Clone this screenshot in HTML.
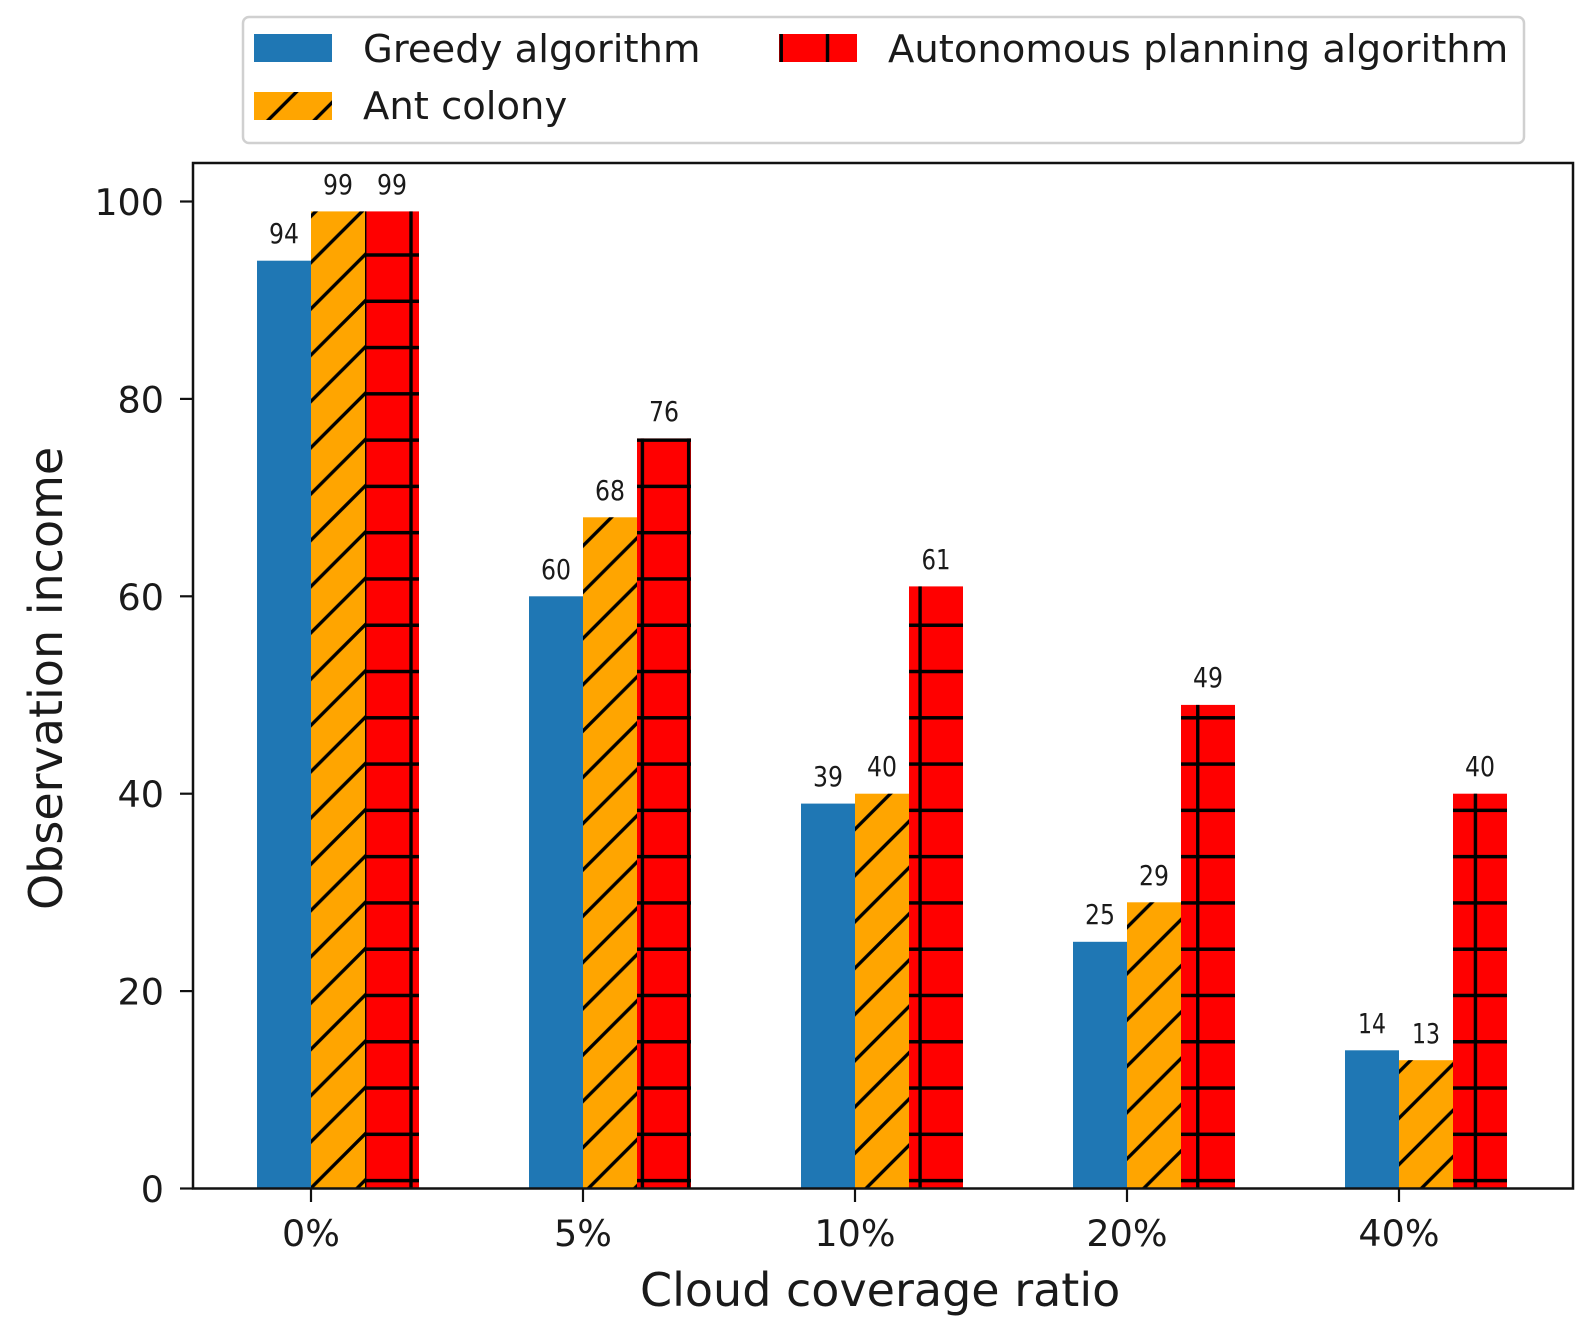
<!DOCTYPE html>
<html><head><meta charset="utf-8"><style>
html,body{margin:0;padding:0;background:#fff;}
svg{display:block;}
text{font-family:"DejaVu Sans","Liberation Sans",sans-serif;fill:#1a1a1a;}
</style></head><body>
<svg width="1593" height="1337" viewBox="0 0 1593 1337" xmlns="http://www.w3.org/2000/svg">
<defs>
<pattern id="diag" patternUnits="userSpaceOnUse" x="387.86" y="231.86" width="46.28" height="46.28">
<path d="M-4,50.28 L50.28,-4 M-4,4 L4,-4 M42.28,50.28 L50.28,42.28" stroke="#000" stroke-width="3.4" fill="none"/>
</pattern>
<pattern id="plus" patternUnits="userSpaceOnUse" x="387.86" y="231.86" width="46.28" height="46.28">
<path d="M23.14,-1 V47.28 M-1,23.14 H47.28" stroke="#000" stroke-width="3.4" fill="none"/>
</pattern>
</defs>
<rect width="1593" height="1337" fill="#fff"/>

<!-- Legend -->
<rect x="243" y="17" width="1281" height="126" rx="6" ry="6" fill="#fff" stroke="#d0d0d0" stroke-width="2.5"/>
<rect x="254" y="34" width="78" height="28" fill="#1f77b4"/>
<rect x="254" y="92" width="78" height="28" fill="#ffa500"/>
<rect x="254" y="92" width="78" height="28" fill="url(#diag)"/>
<rect x="779" y="34" width="78" height="28" fill="#ff0000"/>
<rect x="779" y="34" width="78" height="28" fill="url(#plus)"/>
<text x="363" y="62" font-size="38.5">Greedy algorithm</text>
<text x="363" y="119" font-size="38.5">Ant colony</text>
<text x="888" y="62" font-size="38.5">Autonomous planning algorithm</text>

<!-- Bars: y(v)=1188.5-9.87v -->
<rect x="257" y="260.7" width="54" height="927.8" fill="#1f77b4"/>
<rect x="311" y="211.4" width="54" height="977.1" fill="#ffa500"/>
<rect x="311" y="211.4" width="54" height="977.1" fill="url(#diag)"/>
<rect x="365" y="211.4" width="54" height="977.1" fill="#ff0000"/>
<rect x="365" y="211.4" width="54" height="977.1" fill="url(#plus)"/>

<rect x="529" y="596.3" width="54" height="592.2" fill="#1f77b4"/>
<rect x="583" y="517.3" width="54" height="671.2" fill="#ffa500"/>
<rect x="583" y="517.3" width="54" height="671.2" fill="url(#diag)"/>
<rect x="637" y="438.4" width="54" height="750.1" fill="#ff0000"/>
<rect x="637" y="438.4" width="54" height="750.1" fill="url(#plus)"/>

<rect x="801" y="803.6" width="54" height="384.9" fill="#1f77b4"/>
<rect x="855" y="793.7" width="54" height="394.8" fill="#ffa500"/>
<rect x="855" y="793.7" width="54" height="394.8" fill="url(#diag)"/>
<rect x="909" y="586.4" width="54" height="602.1" fill="#ff0000"/>
<rect x="909" y="586.4" width="54" height="602.1" fill="url(#plus)"/>

<rect x="1073" y="941.8" width="54" height="246.7" fill="#1f77b4"/>
<rect x="1127" y="902.3" width="54" height="286.2" fill="#ffa500"/>
<rect x="1127" y="902.3" width="54" height="286.2" fill="url(#diag)"/>
<rect x="1181" y="704.9" width="54" height="483.6" fill="#ff0000"/>
<rect x="1181" y="704.9" width="54" height="483.6" fill="url(#plus)"/>

<rect x="1345" y="1050.3" width="54" height="138.2" fill="#1f77b4"/>
<rect x="1399" y="1060.2" width="54" height="128.3" fill="#ffa500"/>
<rect x="1399" y="1060.2" width="54" height="128.3" fill="url(#diag)"/>
<rect x="1453" y="793.7" width="54" height="394.8" fill="#ff0000"/>
<rect x="1453" y="793.7" width="54" height="394.8" fill="url(#plus)"/>

<!-- value labels -->
<g font-size="28" text-anchor="middle">
<text x="284" y="243" textLength="30" lengthAdjust="spacingAndGlyphs">94</text>
<text x="338" y="194" textLength="30" lengthAdjust="spacingAndGlyphs">99</text>
<text x="392" y="194" textLength="30" lengthAdjust="spacingAndGlyphs">99</text>
<text x="556" y="579" textLength="30" lengthAdjust="spacingAndGlyphs">60</text>
<text x="610" y="500" textLength="30" lengthAdjust="spacingAndGlyphs">68</text>
<text x="664" y="421" textLength="30" lengthAdjust="spacingAndGlyphs">76</text>
<text x="828" y="786" textLength="30" lengthAdjust="spacingAndGlyphs">39</text>
<text x="882" y="776" textLength="30" lengthAdjust="spacingAndGlyphs">40</text>
<text x="936" y="569" textLength="29" lengthAdjust="spacingAndGlyphs">61</text>
<text x="1100" y="924" textLength="30" lengthAdjust="spacingAndGlyphs">25</text>
<text x="1154" y="885" textLength="30" lengthAdjust="spacingAndGlyphs">29</text>
<text x="1208" y="687" textLength="30" lengthAdjust="spacingAndGlyphs">49</text>
<text x="1372" y="1033" textLength="28" lengthAdjust="spacingAndGlyphs">14</text>
<text x="1426" y="1043" textLength="28" lengthAdjust="spacingAndGlyphs">13</text>
<text x="1480" y="776" textLength="30" lengthAdjust="spacingAndGlyphs">40</text>
</g>

<!-- axes frame -->
<rect x="193" y="163" width="1380" height="1025.5" fill="none" stroke="#111" stroke-width="2.5"/>

<!-- ticks -->
<g stroke="#111" stroke-width="2.2">
<line x1="180" y1="1188.5" x2="193" y2="1188.5"/>
<line x1="180" y1="991.1" x2="193" y2="991.1"/>
<line x1="180" y1="793.7" x2="193" y2="793.7"/>
<line x1="180" y1="596.3" x2="193" y2="596.3"/>
<line x1="180" y1="398.9" x2="193" y2="398.9"/>
<line x1="180" y1="201.5" x2="193" y2="201.5"/>
<line x1="311" y1="1188.5" x2="311" y2="1202"/>
<line x1="583" y1="1188.5" x2="583" y2="1202"/>
<line x1="855" y1="1188.5" x2="855" y2="1202"/>
<line x1="1127" y1="1188.5" x2="1127" y2="1202"/>
<line x1="1399" y1="1188.5" x2="1399" y2="1202"/>
</g>
<g font-size="36.5" text-anchor="end">
<text x="164" y="1202">0</text>
<text x="164" y="1004.6">20</text>
<text x="164" y="807.2">40</text>
<text x="164" y="609.8">60</text>
<text x="164" y="412.4">80</text>
<text x="164" y="215">100</text>
</g>
<g font-size="36.5" text-anchor="middle">
<text x="311" y="1246">0%</text>
<text x="583" y="1246">5%</text>
<text x="855" y="1246">10%</text>
<text x="1127" y="1246">20%</text>
<text x="1399" y="1246">40%</text>
</g>

<!-- axis labels -->
<text x="640" y="1306" font-size="46">Cloud coverage ratio</text>
<text transform="translate(62,910) rotate(-90)" x="0" y="0" font-size="46">Observation income</text>
</svg>
</body></html>
